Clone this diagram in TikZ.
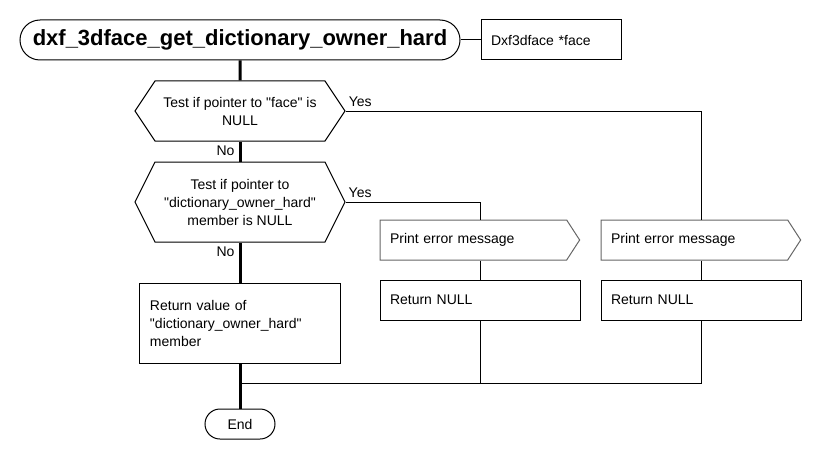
\documentclass[tikz,border=0pt]{standalone}
\usepackage{fontspec}
\setmainfont{Liberation Sans}[Ligatures=TeXOff]
\usetikzlibrary{positioning,shapes.symbols}

\begin{document}
\begin{tikzpicture}[node distance=15pt,
  font=\fontsize{10.5}{13.5}\selectfont,
  title node/.style={rectangle,rounded corners=15pt,draw,line width=.75pt,minimum width=330pt,
    minimum height=30pt,font=\fontsize{16.5}{19}\selectfont\bfseries},
  param node/.style={rectangle,draw,line width=.75pt,minimum height=30pt,
    text width=90pt,inner xsep=7.5pt,align=left},
  test node/.style={signal,signal to=east and west,draw,line width=.75pt,
    minimum width=157.5pt,align=center},
  print node/.style={signal,signal to=east,draw=black!60,line width=.75pt,
    minimum height=30pt,text width=125pt,inner xsep=7.5pt,
    signal pointer angle=114,align=left},
  box node/.style={rectangle,draw,line width=.75pt,minimum height=30pt,
    text width=135pt,inner xsep=7.5pt,align=left},
  end node/.style={rectangle,rounded corners=11.25pt,draw,line width=.75pt,minimum width=52.5pt,
    minimum height=22.5pt},
  main line/.style={line width=2.25pt},
  branch line/.style={line width=.75pt},
  yes label/.style={anchor=south west,inner xsep=2pt,inner ysep=3pt},
  no label/.style={anchor=north east,inner xsep=3pt,inner ysep=2pt}]

  \useasboundingbox (-180pt,30pt) rectangle (435pt,-315pt);

  % main column
  \node[title node] (title) {dxf\_3dface\_get\_dictionary\_owner\_hard};
  \node[param node] (param) [right=of title] {Dxf3dface *face};
  \node[test node,minimum height=45pt,signal pointer angle=112.6] (d1) [below=of title]
    {Test if pointer to "face" is\\NULL};
  \node[test node,minimum height=60pt,signal pointer angle=126.9] (d2) [below=of d1]
    {Test if pointer to\\"dictionary\_owner\_hard"\\member is NULL};
  \node[box node,minimum height=60pt] (retv) [below=30pt of d2]
    {Return value of\\"dictionary\_owner\_hard"\\member};
  \node[end node] (endn) [below=33.75pt of retv] {End};
  \coordinate (join) at ([yshift=-15pt]retv.south);

  % error branches
  \node[box node] (rn1) at (180pt,-195pt) {Return NULL};
  \node[box node] (rn2) [right=of rn1] {Return NULL};
  \node[print node,anchor=west] (pr1) at ([yshift=45pt]rn1.west) {Print error message};
  \node[print node,anchor=west] (pr2) at ([yshift=45pt]rn2.west) {Print error message};

  \draw[branch line] (title) -- (param);
  \draw[main line] (title) -- (d1);
  \draw[main line] (d1.south) node[no label] {No} -- (d2.north);
  \draw[main line] (d2.south) node[no label] {No} -- (retv.north);
  \draw[main line] (retv) -- (endn);
  \draw[branch line] (d1.east) node[yes label] {Yes} -| (pr2.north -| rn2.north);
  \draw[branch line] (d2.east) node[yes label] {Yes} -| (pr1.north -| rn1.north);
  \draw[branch line] (rn1.north |- pr1.south) -- (rn1.north);
  \draw[branch line] (rn2.north |- pr2.south) -- (rn2.north);
  \draw[branch line] (rn1.south) -- (rn1.south |- join);
  \draw[branch line] (rn2.south) |- (join);
\end{tikzpicture}
\end{document}
